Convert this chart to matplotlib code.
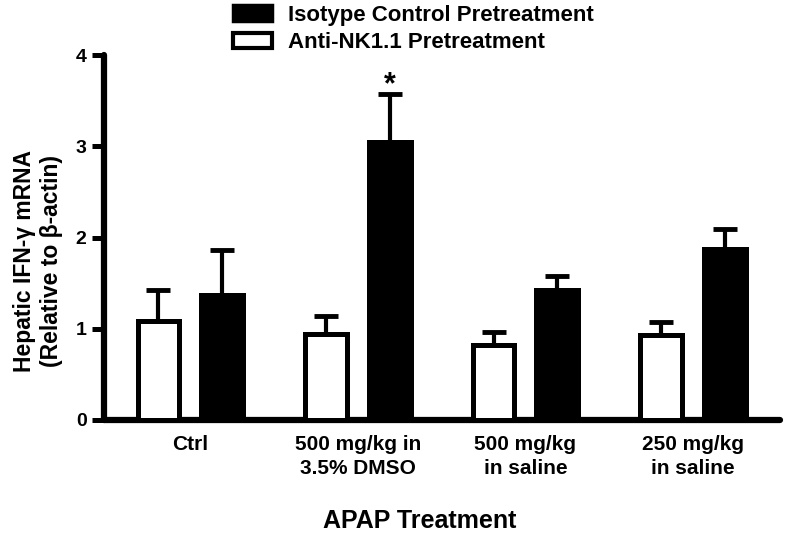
import numpy as np
import matplotlib
matplotlib.use("Agg")
import matplotlib.pyplot as plt
from matplotlib.patches import Patch

# --- DATA ---
groups = ["Ctrl", "500 mg/kg in\n3.5% DMSO", "500 mg/kg\nin saline", "250 mg/kg\nin saline"]
anti_nk = [1.09, 0.94, 0.82, 0.93]        # open bars
anti_nk_err = [0.34, 0.20, 0.14, 0.14]
isotype = [1.37, 3.05, 1.43, 1.87]        # filled bars
isotype_err = [0.49, 0.52, 0.15, 0.22]
star_group = 1

plt.rcParams['font.family'] = ['Liberation Sans', 'DejaVu Sans']
plt.rcParams['font.weight'] = 'bold'

fig = plt.figure(figsize=(7.92, 5.37), dpi=100)
ax = fig.add_axes([104 / 792, 1 - 420 / 537, 676 / 792, 365 / 537])

x = np.arange(len(groups))
off = 0.19
w = 0.25
ax.bar(x - off, anti_nk, w, color='white', edgecolor='black', linewidth=3.6, zorder=3)
ax.bar(x + off, isotype, w, color='black', edgecolor='black', linewidth=3.6, zorder=3)

# upper error bars only
ax.errorbar(x - off, anti_nk, yerr=[np.zeros(4), anti_nk_err], fmt='none',
            ecolor='black', elinewidth=3, capsize=8.5, capthick=3.5, zorder=2)
ax.errorbar(x + off, isotype, yerr=[np.zeros(4), isotype_err], fmt='none',
            ecolor='black', elinewidth=3, capsize=8.5, capthick=3.5, zorder=2)

ax.text(star_group + off, isotype[star_group] + isotype_err[star_group] + 0.1, '*',
        ha='center', va='center', fontsize=22, fontweight='bold')

ax.set_xlim(-0.515, 3.52)
ax.set_ylim(0, 4)
ax.set_yticks([0, 1, 2, 3, 4])
ax.set_xticks(x)
ax.set_xticklabels(groups, fontsize=15, fontweight='bold', linespacing=1.3)
ax.tick_params(axis='x', length=0, pad=11)
ax.tick_params(axis='y', length=8.6, width=3.6, labelsize=14, pad=4)
for t in ax.get_yticklabels():
    t.set_fontweight('bold')

for s in ['top', 'right']:
    ax.spines[s].set_visible(False)
for s in ['left', 'bottom']:
    ax.spines[s].set_linewidth(4.5)
    ax.spines[s].set_capstyle('round')

fig.text(38 / 792, 1 - 261 / 537, "Hepatic IFN-γ mRNA\n(Relative to β-actin)",
         rotation=90, ha='center', va='center', fontsize=16.5, fontweight='bold',
         linespacing=1.2)
fig.text(420 / 792, 1 - 521 / 537, "APAP Treatment", ha='center', va='center',
         fontsize=18, fontweight='bold')

handles = [Patch(facecolor='black', edgecolor='black', linewidth=2.5),
           Patch(facecolor='white', edgecolor='black', linewidth=3)]
fig.legend(handles, ["Isotype Control Pretreatment", "Anti-NK1.1 Pretreatment"],
           loc='upper left', bbox_to_anchor=(233 / 792, 1 - 5 / 537), frameon=False,
           borderpad=0, borderaxespad=0, handlelength=1.75, handleheight=0.72,
           handletextpad=0.72, labelspacing=0.28,
           prop={'size': 16, 'weight': 'bold'})

fig.savefig('out.png', dpi=100)
